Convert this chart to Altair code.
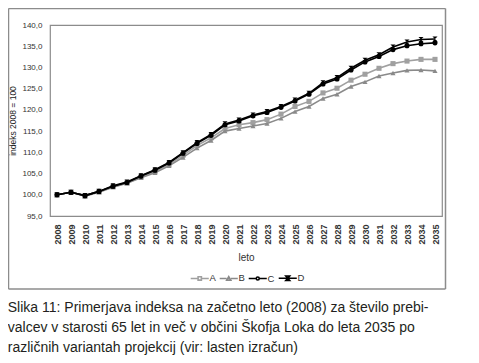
import altair as alt
import pandas as pd

years = [str(y) for y in range(2008, 2036)]
series_names = ["A", "B", "C", "D"]
A = [100.0, 100.6, 99.8, 100.7, 101.9, 102.8, 104.2, 105.5, 107.1, 109.3, 111.6, 113.4, 115.6, 116.5,
     117.0, 117.7, 119.0, 120.8, 122.0, 124.0, 125.1, 127.0, 128.4, 129.8, 130.9, 131.5, 131.9, 131.9]
B = [100.0, 100.6, 99.7, 100.6, 101.8, 102.7, 104.0, 105.2, 106.8, 108.8, 111.0, 112.8, 115.0, 115.6,
     116.2, 116.8, 118.0, 119.6, 120.8, 122.7, 123.7, 125.5, 126.6, 128.0, 128.7, 129.3, 129.4, 129.2]
C = [100.0, 100.6, 99.8, 100.8, 102.0, 102.9, 104.4, 105.8, 107.5, 109.8, 112.1, 114.0, 116.5, 117.4,
     118.6, 119.4, 120.6, 122.1, 123.7, 126.1, 127.3, 129.4, 131.3, 132.6, 134.2, 135.1, 135.6, 135.8]
D = [100.0, 100.6, 99.8, 100.8, 102.1, 103.0, 104.5, 105.9, 107.6, 109.9, 112.3, 114.2, 116.7, 117.6,
     118.8, 119.6, 120.8, 122.3, 123.9, 126.4, 127.6, 129.8, 131.7, 133.0, 134.8, 136.0, 136.6, 136.7]
y_ticks = [95, 100, 105, 110, 115, 120, 125, 130, 135, 140]
caption = [
    "Slika 11: Primerjava indeksa na začetno leto (2008) za število prebi-",
    "valcev v starosti 65 let in več v občini Škofja Loka do leta 2035 po",
    "različnih variantah projekcij (vir: lasten izračun)",
]

rows = []
for name, vals in zip(series_names, [A, B, C, D]):
    for yr, v in zip(years, vals):
        rows.append({"leto": yr, "serija": name, "indeks": v})
df = pd.DataFrame(rows)

colors = ["#a0a0a0", "#8a8a8a", "#000000", "#000000"]
marker_shapes = ["square", "triangle-up", "circle", "M-1,-1L1,-1L-1,1L1,1Z"]
legend_shapes = [
    "M-3.3,0H-0.75M0.75,0H3.3M-0.6,-0.6H0.6V0.6H-0.6Z",
    "M-3.3,0H-0.8M0.8,0H3.3M0,-0.7L0.75,0.6H-0.75Z",
    "M-3.3,0H-0.7M0.7,0H3.3M0.55,0A0.55,0.55,0,1,1,-0.55,0A0.55,0.55,0,1,1,0.55,0Z",
    "M-3.3,0H3.3M-0.7,-0.8L0.7,-0.8L-0.7,0.8L0.7,0.8Z",
]

FONT = "Liberation Sans"
GREY = "#8c8c8c"

x_enc = alt.X("leto:O", sort=years, scale=alt.Scale(type="point", padding=0.5),
              axis=alt.Axis(title="leto", labelAngle=270, labelAlign="right", labelBaseline="middle",
                            labelPadding=8, labelFontWeight="bold", labelFontSize=9, labelColor="#333333",
                            labelFont=FONT, ticks=False, domain=False, titleFont=FONT, titleFontSize=10,
                            titleFontWeight="normal", titleColor="#333333", titlePadding=8))
y_enc = alt.Y("indeks:Q", scale=alt.Scale(domain=[95, 140], nice=False, zero=False),
              axis=alt.Axis(title="indeks 2008 = 100", values=y_ticks,
                            labelExpr="replace(format(datum.value, '.1f'), '.', ',')",
                            labelFont=FONT, labelFontSize=8, labelColor="#333333", labelPadding=8,
                            ticks=False, domain=False, grid=False, titleFont=FONT, titleFontSize=8.5,
                            titleFontWeight="normal", titleColor="#222222", titlePadding=4))

layers = []
for name, col, shp in zip(series_names, colors, marker_shapes):
    sub = alt.Chart(df).transform_filter(alt.datum.serija == name)
    layers.append(sub.mark_line(color=col, strokeWidth=1.6).encode(x=x_enc, y=y_enc))
    layers.append(sub.mark_point(color=col, shape=shp, filled=True, size=26, opacity=1).encode(x=x_enc, y=y_enc))

leg = dict(title=None, orient="none", legendX=145, legendY=248, direction="horizontal",
           symbolOpacity=1, symbolSize=30, symbolStrokeWidth=1.6, labelFont=FONT, labelFontSize=9.5,
           labelColor="#333333", labelOffset=5, columnPadding=0)
legend_layer = alt.Chart(df).mark_point(filled=False, opacity=0, strokeWidth=1.6).encode(
    x=x_enc, y=y_enc,
    color=alt.Color("serija:N", scale=alt.Scale(domain=series_names, range=colors),
                    legend=alt.Legend(**leg)),
    shape=alt.Shape("serija:N", scale=alt.Scale(domain=series_names, range=legend_shapes),
                    legend=alt.Legend(**leg)),
)
layers.append(legend_layer)

L, R, T, Bm = -41.5, 395.5, -16.5, 264
first = alt.Chart(df).transform_filter((alt.datum.serija == "A") & (alt.datum.leto == "2008"))
layers.append(first.mark_rule(stroke=GREY, strokeWidth=1.5, clip=False).encode(
    x=alt.value(L), x2=alt.value(R), y=alt.value(T)))
layers.append(first.mark_rule(stroke=GREY, strokeWidth=1.5, clip=False).encode(
    x=alt.value(L), x2=alt.value(R), y=alt.value(Bm)))
layers.append(first.mark_rule(stroke=GREY, strokeWidth=1.5, clip=False).encode(
    x=alt.value(L), y=alt.value(T), y2=alt.value(Bm)))
layers.append(first.mark_rule(stroke=GREY, strokeWidth=1.5, clip=False).encode(
    x=alt.value(R), y=alt.value(T), y2=alt.value(Bm)))

chart = alt.layer(*layers).properties(
    width=392, height=191,
    autosize=alt.AutoSizeParams(type="none"),
    padding={"left": 42, "top": 17, "right": 25, "bottom": 150},
    title=alt.TitleParams(text=caption, orient="bottom", anchor="start", frame="bounds",
                          font=FONT, fontSize=14, fontWeight="normal", color="#231f20",
                          lineHeight=20, offset=11),
).configure_view(stroke=GREY, strokeWidth=1.2)

chart.save("out.html", embed_options={"renderer": "svg", "actions": False})
